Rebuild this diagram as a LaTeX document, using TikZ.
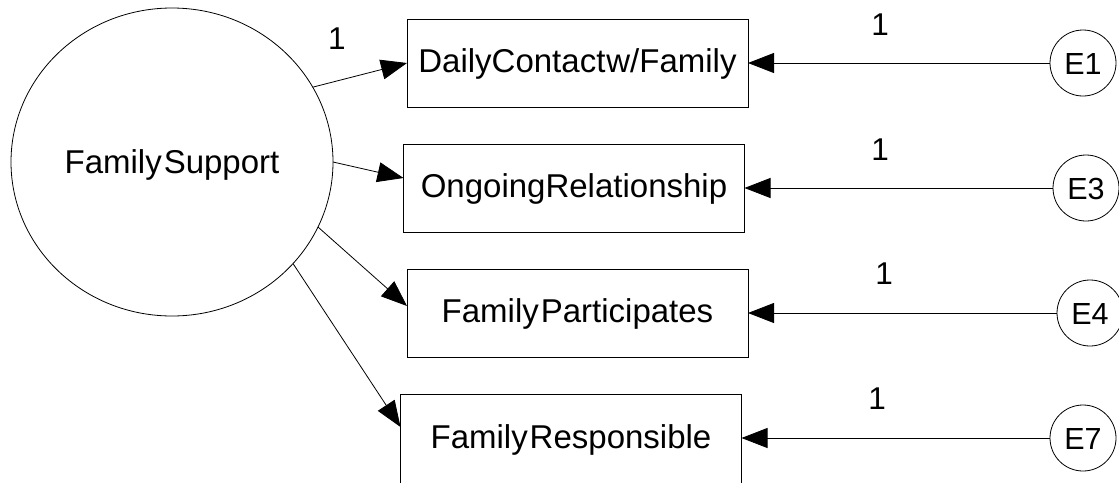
\documentclass[tikz,border=0pt]{standalone}
\usepackage{fontspec}
\setmainfont{Liberation Sans}
\usetikzlibrary{shapes.geometric,arrows.meta}
\begin{document}
\begin{tikzpicture}[x=1pt,y=-1pt,
  latent/.style={draw,ellipse,minimum width=322pt,minimum height=308pt,inner sep=0pt,outer sep=0pt,line width=0.8pt,font=\fontsize{33}{36}\selectfont,text height=23.5pt,text depth=0pt},
  obs/.style={draw,rectangle,minimum width=341pt,minimum height=88pt,inner sep=0pt,outer sep=0pt,line width=0.9pt,font=\fontsize{33}{36}\selectfont,text height=23.5pt,text depth=5.5pt},
  err/.style={draw,circle,minimum size=66pt,inner sep=0pt,outer sep=0pt,line width=0.8pt,font=\fontsize{30.5}{34}\selectfont,text height=22pt,text depth=0pt},
  lbl/.style={inner sep=0pt,font=\fontsize{31.5}{34}\selectfont,text height=22.5pt,text depth=0pt},
  conn/.style={line width=0.8pt,-{Triangle[length=26pt,width=20pt]}}
]
\useasboundingbox (0,0) rectangle (1119,482);
\clip (0,0) rectangle (1119,482);

\node[latent] (fs) at (172,162) {Family\kern2pt Support};

\node[obs] (b1) at (577.5,63) {DailyContact\kern1pt w/Family};
\node[obs] (b2) at (574,188) {OngoingRelationship};
\node[obs] (b3) at (577.5,313) {Family\kern2pt Participates};
\node[obs,minimum height=90pt] (b4) at (571,439) {Family\kern2pt Responsible};

\node[err] (e1) at (1083,63) {E1};
\node[err] (e3) at (1086,188) {E3};
\node[err] (e4) at (1090,313) {E4};
\node[err] (e7) at (1083,438) {E7};

\draw[conn] (fs.28) -- (b1.west);
\draw[conn] (fs.0) -- ([yshift=10pt]b2.west);
\draw[conn] (fs.-24.5) -- ([yshift=7pt]b3.west);
\draw[conn] (fs.-40) -- ([yshift=12pt]b4.west);

\draw[conn] (e1.west) -- (b1.east);
\draw[conn] (e3.west) -- (b2.east);
\draw[conn] (e4.west) -- (b3.east);
\draw[conn] (e7.west) -- (b4.east |- e7.west);

\node[lbl] (l0) at (337,38) {1};
\node[lbl] (l1) at (880,24) {1};
\node[lbl] (l3) at (880,149) {1};
\node[lbl] (l4) at (884,273) {1};
\node[lbl] (l7) at (877,398) {1};
\end{tikzpicture}
\end{document}
